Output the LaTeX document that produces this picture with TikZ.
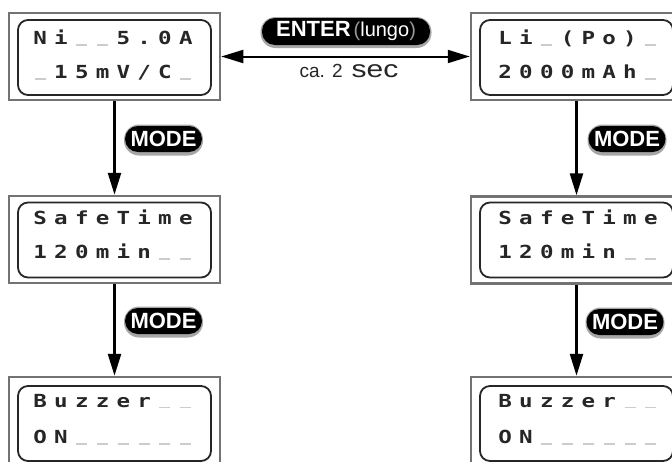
\documentclass[tikz,border=0pt]{standalone}
\usepackage{fontspec}
\setmainfont{Liberation Sans}
\newfontfamily\lcdfont{DejaVu Sans Mono}
\usetikzlibrary{arrows.meta}
\newcommand\lcdcell[1]{\makebox[20.8pt]{\if-#1\textcolor{black!20}{\rule[-1pt]{11pt}{1.5pt}}\else\scalebox{1.25}[1]{#1}\fi}}
\newcommand\lcd[8]{\lcdcell{#1}\lcdcell{#2}\lcdcell{#3}\lcdcell{#4}\lcdcell{#5}\lcdcell{#6}\lcdcell{#7}\lcdcell{#8}}
\tikzset{
  outerbox/.style={draw=black!55, line width=2.5pt, minimum width=211pt, minimum height=87pt, inner sep=0pt},
  innerbox/.style={draw=black!85, line width=1.8pt, rounded corners=10pt, minimum width=193pt, minimum height=75pt, inner sep=0pt},
  lcdtext/.style={font=\lcdfont\bfseries\fontsize{18}{18}\selectfont, text=black!85, inner sep=0pt, anchor=base west},
  pill/.style={fill=black, rounded corners=13pt, text=white, font=\bfseries\fontsize{22}{22}\selectfont, inner sep=0pt},
  modepill/.style={pill, minimum width=77pt, minimum height=26pt},
  pillshadow/.style={fill=black!35, rounded corners=15pt, minimum width=79pt, minimum height=31pt, inner sep=0pt},
  flowarrow/.style={line width=2.5pt, -{Triangle[length=22pt,width=13pt]}},
  enterarrow/.style={line width=2pt, {Triangle[length=22pt,width=13pt]}-{Triangle[length=22pt,width=13pt]}}
}
\begin{document}
\begin{tikzpicture}[x=1pt,y=-1pt]
\useasboundingbox (0,0) rectangle (672,461);
\fill[white] (0,0) rectangle (672,461);
% outer boxes
\node[outerbox] (L1) at (114.5,56.5) {};
\node[outerbox] (L2) at (114.5,239.5) {};
\node[outerbox] (L3) at (114.5,420.5) {};
\node[outerbox] (R1) at (576.5,56.5) {};
\node[outerbox] (R2) at (576.5,240) {};
\node[outerbox] (R3) at (576.5,420.5) {};
% inner boxes
\node[innerbox] (L1i) at (114.5,57.5) {};
\node[innerbox] (L2i) at (114.5,240) {};
\node[innerbox] (L3i) at (114.5,423.5) {};
\node[innerbox] (R1i) at (576.5,57.5) {};
\node[innerbox] (R2i) at (576.5,240) {};
\node[innerbox] (R3i) at (576.5,423.5) {};
% display texts
\node[lcdtext] (tL1a) at (29.6,44.5) {\lcd Ni--5.0A};
\node[lcdtext] (tL1b) at (29.6,78.5) {\lcd -15mV/C-};
\node[lcdtext] (tL2a) at (29.6,224.5) {\lcd SafeTime};
\node[lcdtext] (tL2b) at (29.6,258.5) {\lcd 120min--};
\node[lcdtext] (tL3a) at (29.6,407) {\lcd Buzzer--};
\node[lcdtext] (tL3b) at (29.6,443.5) {\lcd ON------};
\node[lcdtext] (tR1a) at (494.6,44.5) {\lcd Li-(Po)-};
\node[lcdtext] (tR1b) at (494.6,78.5) {\lcd 2000mAh-};
\node[lcdtext] (tR2a) at (494.6,224.5) {\lcd SafeTime};
\node[lcdtext] (tR2b) at (494.6,258.5) {\lcd 120min--};
\node[lcdtext] (tR3a) at (494.6,407) {\lcd Buzzer--};
\node[lcdtext] (tR3b) at (494.6,443.5) {\lcd ON------};
% arrows
\draw[flowarrow] (L1.south) -- (L2.north);
\draw[flowarrow] (L2.south) -- (L3.north);
\draw[flowarrow] (R1.south) -- (R2.north);
\draw[flowarrow] (R2.south) -- (R3.north);
\draw[enterarrow] (L1.east) -- (R1.west);
% mode pills
\node[pillshadow] (sL1) at (163.5,140) {};
\node[modepill] (mL1) at (163.5,139) {MODE};
\node[pillshadow] (sR1) at (627,140) {};
\node[modepill] (mR1) at (627,139) {MODE};
\node[pillshadow] (sL2) at (163.5,322) {};
\node[modepill] (mL2) at (163.5,321) {MODE};
\node[pillshadow] (sR2) at (625,323) {};
\node[modepill] (mR2) at (625,322) {MODE};
% enter pill
\node[pillshadow, minimum width=171pt] (sE) at (346,32.5) {};
\node[pill, minimum width=168pt, minimum height=27pt] (enter) at (346,31.5)
  {ENTER\hspace{3pt}{\mdseries\fontsize{20}{20}\selectfont\textcolor{black!40}{(}lungo\textcolor{black!40}{)}}};
\node[inner sep=0pt, text=black!85] (ca) at (349,71)
  {{\fontsize{19}{19}\selectfont ca. 2}\hspace{9pt}{\fontsize{24}{24}\selectfont\scalebox{1.25}[1]{sec}}};
\end{tikzpicture}
\end{document}
